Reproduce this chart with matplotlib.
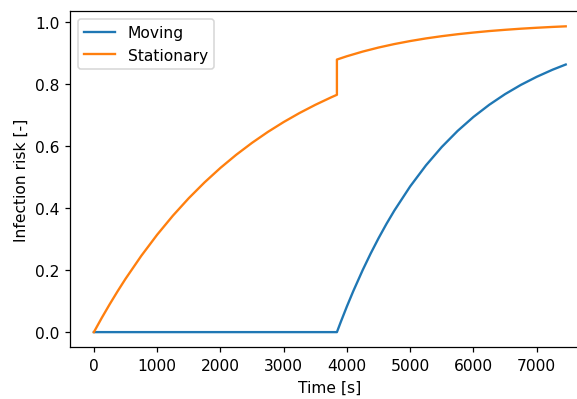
import matplotlib
matplotlib.use("Agg")
import matplotlib.pyplot as plt

# values
t_stat = [0, 125, 250, 375, 500, 750, 1000, 1250, 1500, 1750, 2000, 2250,
          2500, 2750, 3000, 3250, 3500, 3750, 3842, 3842, 4000, 4250, 4500,
          4750, 5000, 5250, 5500, 5750, 6000, 6250, 6500, 6750, 7000, 7250,
          7459]
risk_stat = [0.0, 0.0460, 0.0898, 0.1316, 0.1716, 0.2459, 0.3137, 0.3753,
             0.4314, 0.4824, 0.5289, 0.5712, 0.6097, 0.6448, 0.6767, 0.7057,
             0.7321, 0.7562, 0.7645, 0.878, 0.8887, 0.9037, 0.9167, 0.9279,
             0.9376, 0.9461, 0.9533, 0.9596, 0.9650, 0.9698, 0.9738, 0.9774,
             0.9804, 0.9831, 0.985]

t_mov = [0, 3842, 3900, 4000, 4100, 4250, 4375, 4500, 4625, 4750, 5000, 5250,
         5500, 5750, 6000, 6250, 6500, 6750, 7000, 7250, 7459]
risk_mov = [0.0, 0.0, 0.0312, 0.0829, 0.1317, 0.2001, 0.2530, 0.3024, 0.3486,
            0.3916, 0.4694, 0.5373, 0.5965, 0.6481, 0.6931, 0.7323, 0.7666,
            0.7964, 0.8224, 0.8452, 0.862]

# 577x400 px, text slightly larger than matplotlib default
fig = plt.figure(figsize=(5.152, 3.571), dpi=112)
ax = fig.add_axes([0.1218, 0.129, 0.8995, 0.841])

ax.plot(t_mov, risk_mov, label='Moving')
ax.plot(t_stat, risk_stat, label='Stationary')

ax.set_xlabel('Time [s]')
ax.set_ylabel('Infection risk [-]')
ax.legend(loc='upper left')

fig.savefig('out.png', dpi=112)
